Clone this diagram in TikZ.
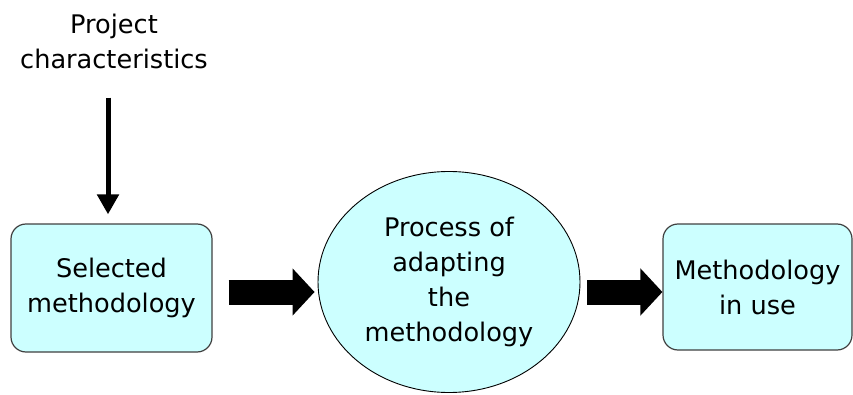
\documentclass[tikz,border=0pt]{standalone}
\usepackage{fontspec}
\setmainfont{DejaVu Sans}
\usepackage{xcolor}
\usepackage{tikz}
\usetikzlibrary{positioning,shapes.geometric,arrows.meta}
\definecolor{boxfill}{HTML}{CCFFFF}
\definecolor{boxline}{HTML}{404040}

\begin{document}
\begin{tikzpicture}[x=1pt,y=1pt,
	every node/.style={align=center,font=\fontsize{25.6}{35}\selectfont,inner sep=0pt},
	box/.style={draw=boxline,fill=boxfill,line width=1.2pt,rounded corners=15pt},
	procellipse/.style={ellipse,draw=black,fill=boxfill,line width=0.9pt},
	fatarrow/.style={line width=25pt,-{Triangle[length=22pt,width=46pt]}},
	thinarrow/.style={line width=5pt,-{Triangle[length=20pt,width=21pt]}}]
	\useasboundingbox (0,0) rectangle (853,394);
	\node (projchar) at (114,353) {Project\\characteristics};
	\node[box,minimum width=201pt,minimum height=128pt] (selmeth) at (111.5,106) {Selected\\methodology};
	\node[procellipse,minimum width=262pt,minimum height=221pt] (adapt) at (449,112) {Process of\\adapting\\the\\methodology};
	\node[box,minimum width=189pt,minimum height=126pt] (methuse) at (757.5,107) {Methodology\\in use};

	\draw[thinarrow] ([xshift=-6pt,yshift=-29pt]projchar.south) -- ([xshift=-3.5pt,yshift=9pt]selmeth.north);
	\draw[fatarrow] ([xshift=16pt,yshift=-4pt]selmeth.east) -- ([xshift=-3pt,yshift=-10pt]adapt.west);
	\draw[fatarrow] ([xshift=7pt,yshift=-10pt]adapt.east) -- ([yshift=-5pt]methuse.west);
\end{tikzpicture}
\end{document}
